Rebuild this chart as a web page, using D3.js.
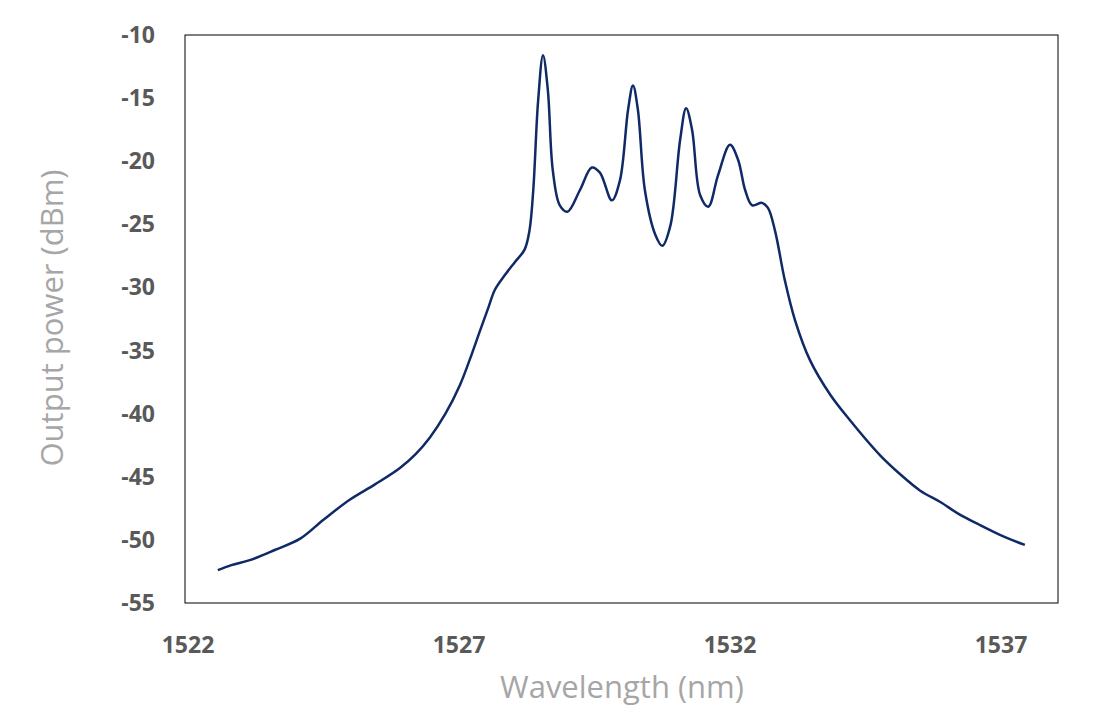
<!DOCTYPE html>
<html><head><meta charset="utf-8">
<script src="https://cdn.jsdelivr.net/npm/d3@7"></script>
<style>body{margin:0;background:#fff;}</style>
</head><body>
<script>
var wavelength = [1522.55,1522.8,1523.14,1523.6,1524.07,1524.5,1524.99,1525.45,1525.91,1526.2,1526.46,1526.75,1527.02,1527.2,1527.39,1527.55,1527.66,1527.85,1528.03,1528.21,1528.3,1528.37,1528.46,1528.55,1528.64,1528.73,1528.86,1529.0,1529.23,1529.45,1529.6,1529.82,1529.97,1530.12,1530.21,1530.3,1530.43,1530.62,1530.75,1530.9,1531.08,1531.19,1531.3,1531.45,1531.6,1531.78,1532.0,1532.15,1532.28,1532.41,1532.59,1532.7,1532.83,1533.01,1533.2,1533.48,1533.85,1534.21,1534.77,1535.14,1535.51,1535.88,1536.24,1536.6,1536.98,1537.2,1537.44];
var power = [-52.4,-52.0,-51.6,-50.8,-49.9,-48.4,-46.8,-45.6,-44.3,-43.2,-41.9,-40.0,-37.7,-35.7,-33.4,-31.5,-30.2,-29.0,-28.0,-27.0,-25.5,-22.3,-15.2,-11.6,-14.4,-20.7,-23.5,-24.0,-22.3,-20.5,-20.9,-23.1,-21.5,-15.9,-14.0,-15.9,-22.3,-25.8,-26.7,-25.1,-18.3,-15.8,-17.5,-22.7,-23.6,-21.1,-18.7,-19.9,-22.3,-23.5,-23.3,-23.7,-25.5,-29.4,-32.6,-35.8,-38.5,-40.5,-43.3,-44.8,-46.1,-47.0,-48.0,-48.8,-49.6,-50.0,-50.4];
var xTicks = [1522,1527,1532,1537];
var yTicks = [-10,-15,-20,-25,-30,-35,-40,-45,-50,-55];

var W = 1097, H = 716;
var m = {l:185, r:1058, t:35, b:603};
var svg = d3.select("body").append("svg").attr("width",W).attr("height",H);

var x = d3.scaleLinear().domain([1522,1538]).range([m.l+3, m.l+3+16*54.2]);
var y = d3.scaleLinear().domain([-55,-10]).range([m.b, m.t]);

svg.append("rect").attr("x",m.l).attr("y",m.t).attr("width",m.r-m.l).attr("height",m.b-m.t)
  .attr("fill","none").attr("stroke","#000").attr("stroke-width",1);

svg.selectAll(".yt").data(yTicks).enter().append("text")
  .attr("x",m.l-30).attr("y",function(d){return y(d);}).attr("dy","0.35em")
  .attr("text-anchor","end").attr("font-family","Open Sans, sans-serif")
  .attr("font-weight","bold").attr("font-size",23).attr("fill","#595959")
  .text(function(d){return d;});

svg.selectAll(".xt").data(xTicks).enter().append("text")
  .attr("x",function(d){return x(d);}).attr("y",m.b+50)
  .attr("text-anchor","middle").attr("font-family","Open Sans, sans-serif")
  .attr("font-weight","bold").attr("font-size",23).attr("fill","#595959")
  .text(function(d){return d;});

svg.append("text").attr("x",622).attr("y",698).attr("text-anchor","middle")
  .attr("font-family","Open Sans, sans-serif").attr("font-size",31).attr("fill","#a6a6a6")
  .text("Wavelength (nm)");
svg.append("text").attr("transform","translate(63,318) rotate(-90)")
  .attr("text-anchor","middle").attr("font-family","Open Sans, sans-serif")
  .attr("font-size",31).attr("fill","#a6a6a6").text("Output power (dBm)");

var line = d3.line().x(function(d,i){return x(wavelength[i]);}).y(function(d){return y(d);})
  .curve(d3.curveCatmullRom);
svg.append("path").datum(power).attr("d",line).attr("fill","none")
  .attr("stroke","#0f2a66").attr("stroke-width",2.5);
</script>
</body></html>
